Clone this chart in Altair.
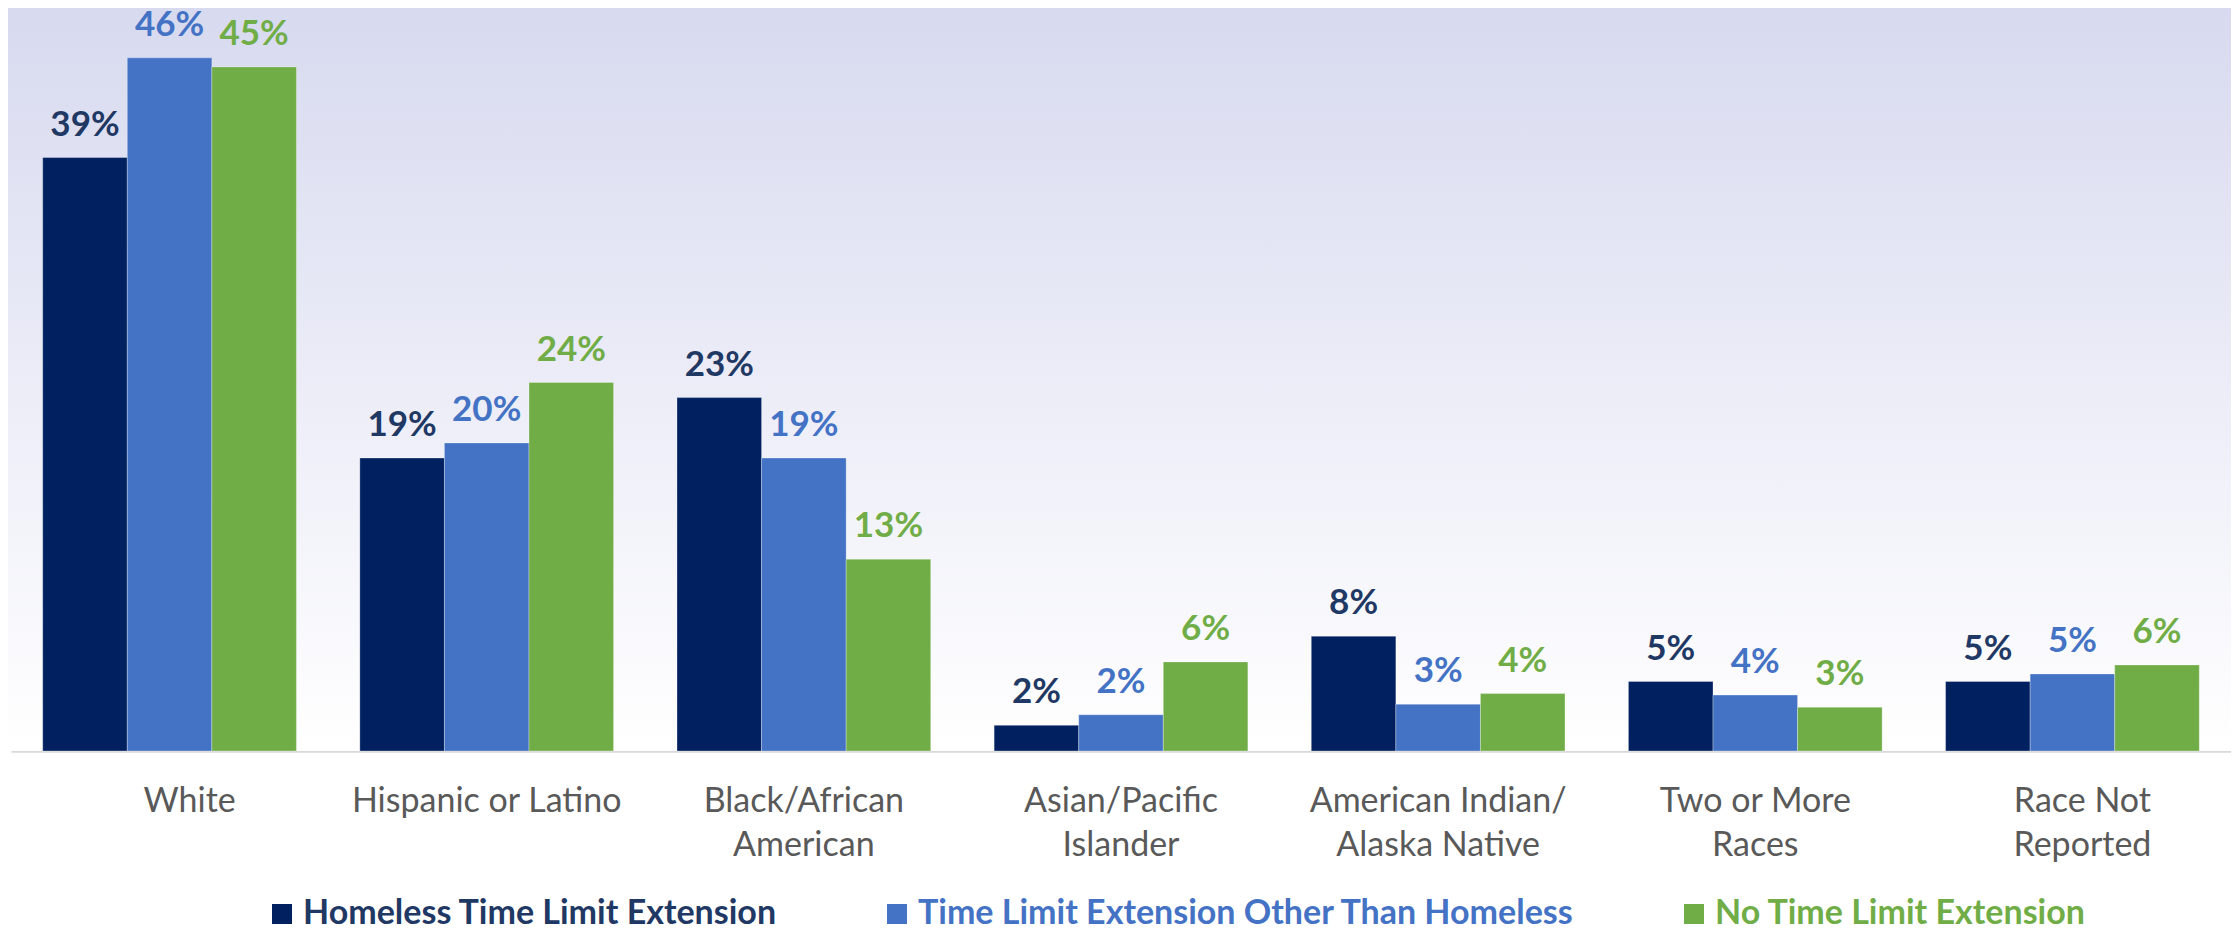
import altair as alt
import pandas as pd

categories = [
    "White",
    "Hispanic or Latino",
    "Black/African|American",
    "Asian/Pacific|Islander",
    "American Indian/|Alaska Native",
    "Two or More|Races",
    "Race Not|Reported",
]
series = [
    "Homeless Time Limit Extension",
    "Time Limit Extension Other Than Homeless",
    "No Time Limit Extension",
]
homeless = [39.3, 19.4, 23.4, 1.7, 7.6, 4.6, 4.6]
other_than_homeless = [45.9, 20.4, 19.4, 2.4, 3.1, 3.7, 5.1]
no_extension = [45.3, 24.4, 12.7, 5.9, 3.8, 2.9, 5.7]

bar_colors = ["#002060", "#4472C4", "#70AD47"]
text_colors = ["#1F3864", "#4472C4", "#70AD47"]

rows = []
for s, vals in zip(series, [homeless, other_than_homeless, no_extension]):
    for c, v in zip(categories, vals):
        rows.append({"category": c, "series": s, "value": v})
df = pd.DataFrame(rows)

FONT = "Lato"
W, H = 2220, 743

x_enc = alt.X(
    "category:N",
    sort=categories,
    scale=alt.Scale(paddingInner=0.2, paddingOuter=0.1),
    axis=alt.Axis(
        title=None,
        ticks=False,
        labelAngle=0,
        labelExpr="split(datum.label, '|')",
        labelFont=FONT,
        labelFontSize=34,
        labelColor="#595959",
        labelPadding=33,
        labelLineHeight=44,
        labelBaseline="top",
        labelLimit=0,
        labelOffset={
            "condition": [
                {"test": "datum.value == 'White'", "value": 20},
                {"test": "datum.value == 'Race Not|Reported'", "value": 10},
            ],
            "value": 0,
        },
        domainColor="#D9D9D9",
        domainWidth=2.5,
        grid=False,
    ),
)
xoff = alt.XOffset("series:N", sort=series, scale=alt.Scale(paddingInner=0, paddingOuter=0))
y_enc = alt.Y("value:Q", scale=alt.Scale(domain=[0, 49.2], nice=False, zero=True), axis=None)

legend_color_expr = (
    "datum.label == 'Homeless Time Limit Extension' ? '#1F3864' : "
    "(datum.label == 'No Time Limit Extension' ? '#70AD47' : '#4472C4')"
)

bg = alt.Chart(pd.DataFrame({"a": [0]})).mark_rect(
    fill=alt.Gradient(
        gradient="linear",
        stops=[
            alt.GradientStop(color="#D7D9EF", offset=0),
            alt.GradientStop(color="#FFFFFF", offset=1),
        ],
        x1=0, x2=0, y1=0, y2=1,
    )
).encode(x=alt.value(-3), x2=alt.value(W), y=alt.value(-8), y2=alt.value(H))

bars = alt.Chart(df).mark_bar(stroke="#FFFFFF", strokeWidth=0.6, strokeOpacity=0.5).encode(
    x=x_enc,
    xOffset=xoff,
    y=y_enc,
    color=alt.Color(
        "series:N",
        sort=series,
        scale=alt.Scale(domain=series, range=bar_colors),
        legend=alt.Legend(
            title=None,
            orient="none",
            legendX=254,
            legendY=889,
            direction="horizontal",
            symbolType="square",
            symbolSize=400,
            symbolStrokeWidth=0,
            symbolOpacity=1,
            labelFont=FONT,
            labelFontWeight="bold",
            labelFontSize=34,
            labelColor={"expr": legend_color_expr},
            labelLimit=0,
            labelOffset=4,
            columnPadding=102,
            padding=0,
        ),
    ),
)

labels = alt.Chart(df).transform_calculate(
    label="format(datum.value, '.0f') + '%'"
).mark_text(
    font=FONT, fontWeight="bold", fontSize=35, baseline="alphabetic", dy=-22
).encode(
    x=alt.X("category:N", sort=categories),
    xOffset=xoff,
    y=y_enc,
    text="label:N",
    color=alt.Color("series:N", scale=alt.Scale(domain=series, range=text_colors), legend=None),
)

chart = (
    alt.layer(bg, bars, labels)
    .resolve_scale(color="independent")
    .properties(
        width=W,
        height=H,
        padding={"left": 3, "top": 0, "right": 0, "bottom": 175},
        autosize=alt.AutoSizeParams(type="none"),
        background="#FFFFFF",
    )
    .configure_view(stroke=None)
)

chart.save("out.html", embed_options={"renderer": "svg", "actions": False})
